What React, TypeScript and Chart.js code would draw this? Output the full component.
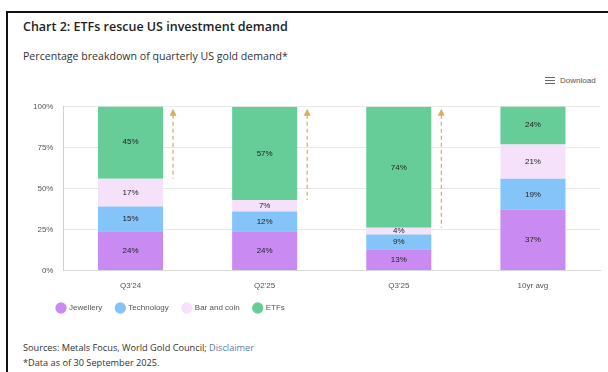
import React, { useEffect, useRef } from "react";
import { Chart, registerables } from "chart.js";

Chart.register(...registerables);

const categories = ["Q3'24", "Q2'25", "Q3'25", "10yr avg"];
const jewellery = [24, 24, 13, 37];
const technology = [15, 12, 9, 19];
const barAndCoin = [17, 7, 4, 21];
const etfs = [45, 57, 74, 24];
const showArrow = [true, true, true, false];
const yTicks = [0, 25, 50, 75, 100];

const COLORS = {
  jewellery: "#C98BF2",
  technology: "#84C4F8",
  barAndCoin: "#F6E1FB",
  etfs: "#66CD98",
  arrow: "#D8AD5C",
};

const CHART_FONT = "'Liberation Sans', Arial, sans-serif";

const labelPlugin = {
  id: "segLabels",
  afterDatasetsDraw(chart: any) {
    const ctx = chart.ctx;
    ctx.save();
    ctx.font = `8px ${CHART_FONT}`;
    ctx.fillStyle = "#222";
    ctx.textAlign = "center";
    ctx.textBaseline = "middle";
    chart.data.datasets.forEach((ds: any, di: number) => {
      const meta = chart.getDatasetMeta(di);
      meta.data.forEach((el: any, i: number) => {
        const v = ds.data[i];
        const y = (el.y + el.base) / 2;
        ctx.fillText(`${v}%`, el.x, y);
      });
    });
    ctx.restore();
  },
};

const arrowPlugin = {
  id: "arrows",
  afterDatasetsDraw(chart: any) {
    const ctx = chart.ctx;
    const yScale = chart.scales.y;
    const etfIndex = chart.data.datasets.length - 1;
    const meta = chart.getDatasetMeta(etfIndex);
    ctx.save();
    meta.data.forEach((el: any, i: number) => {
      if (!showArrow[i]) return;
      const x = el.x + el.width / 2 + 10;
      const top = yScale.getPixelForValue(100) + 2;
      const bottom = el.base;
      ctx.strokeStyle = COLORS.arrow;
      ctx.lineWidth = 1.2;
      ctx.setLineDash([4, 3]);
      ctx.beginPath();
      ctx.moveTo(x, top + 6);
      ctx.lineTo(x, bottom);
      ctx.stroke();
      ctx.setLineDash([]);
      ctx.fillStyle = COLORS.arrow;
      ctx.beginPath();
      ctx.moveTo(x, top);
      ctx.lineTo(x - 3.5, top + 7);
      ctx.lineTo(x + 3.5, top + 7);
      ctx.closePath();
      ctx.fill();
    });
    ctx.restore();
  },
};

const legendShiftPlugin = {
  id: "legendShift",
  afterLayout(chart: any) {
    if (chart.legend) {
      chart.legend.left += 20;
      chart.legend.right += 20;
      chart.legend.top -= 4;
      chart.legend.bottom -= 4;
    }
  },
};

export default function App() {
  const canvasRef = useRef<HTMLCanvasElement | null>(null);

  useEffect(() => {
    if (!canvasRef.current) return;
    const chart = new Chart(canvasRef.current, {
      type: "bar",
      data: {
        labels: categories,
        datasets: [
          { label: "Jewellery", data: jewellery, backgroundColor: COLORS.jewellery },
          { label: "Technology", data: technology, backgroundColor: COLORS.technology },
          { label: "Bar and coin", data: barAndCoin, backgroundColor: COLORS.barAndCoin },
          { label: "ETFs", data: etfs, backgroundColor: COLORS.etfs },
        ],
      },
      options: {
        animation: false,
        responsive: false,
        maintainAspectRatio: false,
        layout: { padding: { top: 8, right: 8, left: 0, bottom: 0 } },
        datasets: { bar: { categoryPercentage: 0.97, barPercentage: 0.5 } } as any,
        scales: {
          x: {
            stacked: true,
            grid: { display: false, drawTicks: true, tickLength: 8 },
            border: { display: true, color: "#d9d9d9" },
            ticks: { color: "#555", font: { family: CHART_FONT, size: 8 } },
          },
          y: {
            stacked: true,
            min: 0,
            max: 100,
            afterBuildTicks: (axis: any) => {
              axis.ticks = yTicks.map((v) => ({ value: v }));
            },
            grid: { color: "#e8e8e8", drawTicks: false },
            border: { display: true, color: "#d0d0d0" },
            ticks: {
              color: "#555",
              padding: 10,
              font: { family: CHART_FONT, size: 8 },
              callback: (v: any) => `${v}%`,
            },
          },
        },
        plugins: {
          legend: {
            position: "bottom",
            align: "start",
            labels: {
              usePointStyle: true,
              pointStyle: "circle",
              boxWidth: 8,
              boxHeight: 8,
              padding: 14,
              color: "#555",
              font: { family: CHART_FONT, size: 8 },
            },
          },
          tooltip: { enabled: false },
        },
      },
      plugins: [labelPlugin, arrowPlugin, legendShiftPlugin],
    });
    return () => chart.destroy();
  }, []);

  return (
    <div
      style={{
        position: "fixed",
        left: 0,
        top: 0,
        width: 608,
        height: 372,
        background: "#fff",
        overflow: "hidden",
        fontFamily: "'Open Sans', 'Noto Sans', sans-serif",
      }}
    >
      <div
        style={{
          position: "absolute",
          left: 6,
          top: 11,
          width: 610,
          height: 370,
          borderTop: "2px solid #111",
          borderLeft: "2px solid #111",
        }}
      />
      <div
        style={{
          position: "absolute",
          left: 23,
          top: 18,
          fontSize: 12.5,
          fontWeight: 600,
          color: "#222",
          whiteSpace: "nowrap",
        }}
      >
        Chart 2: ETFs rescue US investment demand
      </div>
      <div
        style={{
          position: "absolute",
          left: 23,
          top: 49,
          fontSize: 10.6,
          color: "#333",
          whiteSpace: "nowrap",
        }}
      >
        Percentage breakdown of quarterly US gold demand*
      </div>
      <div
        style={{
          position: "absolute",
          left: 545,
          top: 76,
          fontSize: 8,
          color: "#555",
          fontFamily: CHART_FONT,
          display: "flex",
          alignItems: "center",
          whiteSpace: "nowrap",
        }}
      >
        <span style={{ display: "inline-block", width: 10, marginRight: 5 }}>
          <span style={{ display: "block", height: 1.5, background: "#666", marginBottom: 1.5 }} />
          <span style={{ display: "block", height: 1.5, background: "#666", marginBottom: 1.5 }} />
          <span style={{ display: "block", height: 1.5, background: "#666" }} />
        </span>
        Download
      </div>
      <canvas
        ref={canvasRef}
        width={585}
        height={234}
        style={{ position: "absolute", left: 23, top: 92, width: 585, height: 234 }}
      />
      <div
        style={{
          position: "absolute",
          left: 23,
          top: 341,
          fontSize: 9.2,
          color: "#333",
          whiteSpace: "nowrap",
        }}
      >
        Sources: Metals Focus, World Gold Council; <span style={{ color: "#5b7bb0" }}>Disclaimer</span>
      </div>
      <div
        style={{
          position: "absolute",
          left: 23,
          top: 356,
          fontSize: 9.2,
          color: "#333",
          whiteSpace: "nowrap",
        }}
      >
        *Data as of 30 September 2025.
      </div>
    </div>
  );
}
